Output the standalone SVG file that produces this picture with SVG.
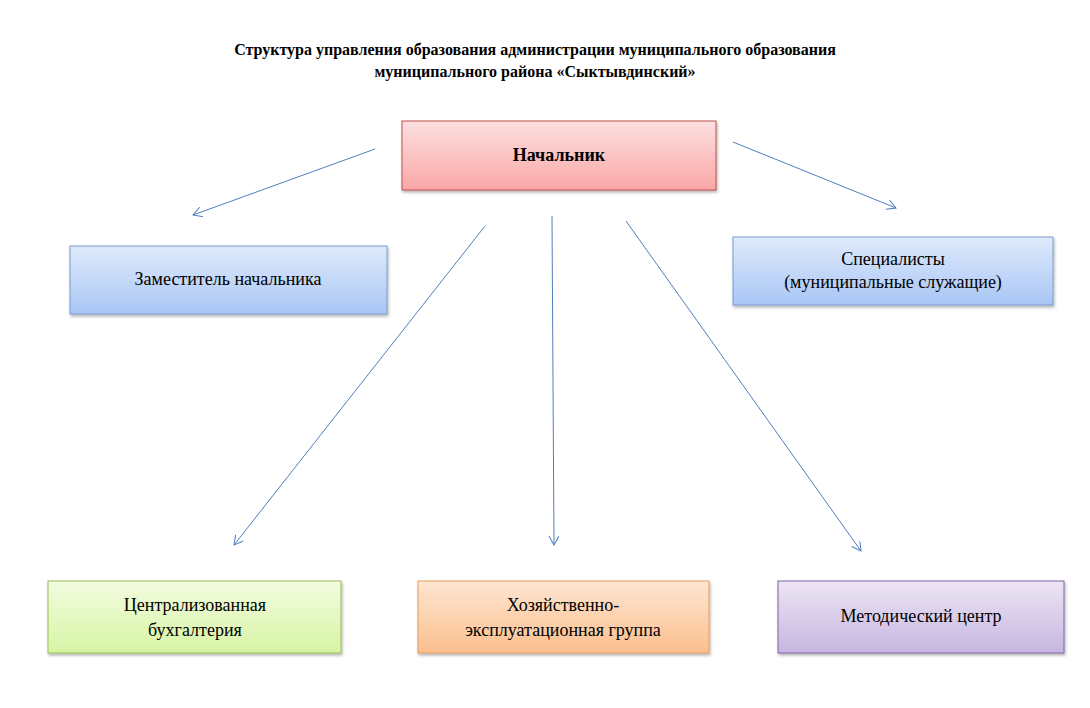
<svg xmlns="http://www.w3.org/2000/svg" width="1090" height="708" viewBox="0 0 1090 708">
<defs>
<linearGradient id="gr" x1="0" y1="0" x2="0" y2="1"><stop offset="0" stop-color="#fde0e0"/><stop offset="1" stop-color="#fba7a7"/></linearGradient>
<linearGradient id="gb" x1="0" y1="0" x2="0" y2="1"><stop offset="0" stop-color="#dfeafc"/><stop offset="1" stop-color="#a9c6f5"/></linearGradient>
<linearGradient id="gg" x1="0" y1="0" x2="0" y2="1"><stop offset="0" stop-color="#f3fce0"/><stop offset="1" stop-color="#d6f4a4"/></linearGradient>
<linearGradient id="go" x1="0" y1="0" x2="0" y2="1"><stop offset="0" stop-color="#fee6d2"/><stop offset="1" stop-color="#fbbf8e"/></linearGradient>
<linearGradient id="gp" x1="0" y1="0" x2="0" y2="1"><stop offset="0" stop-color="#ece5f4"/><stop offset="1" stop-color="#c6b6e0"/></linearGradient>
<filter id="sh" x="-5%" y="-10%" width="110%" height="130%"><feDropShadow dx="1" dy="2" stdDeviation="1.5" flood-color="#000" flood-opacity="0.3"/></filter>
<marker id="ar" markerWidth="12" markerHeight="12" refX="10" refY="5" orient="auto" markerUnits="userSpaceOnUse"><path d="M1,0 L10,5 L1,10" fill="none" stroke="#4f7fbf" stroke-width="1"/></marker>
</defs>
<style>
text{font-family:"Liberation Serif",serif;font-size:18px;fill:#000;text-anchor:middle}
.t{font-weight:bold;font-size:16px}
rect{filter:url(#sh)}
.c line{stroke:#4f7fbf;stroke-width:1;marker-end:url(#ar)}
</style>
<rect width="1090" height="708" fill="#fff" style="filter:none"/>
<g id="title"><text class="t" x="535" y="55">Структура управления образования администрации муниципального образования</text><text class="t" x="535" y="77">муниципального района «Сыктывдинский»</text></g>
<g class="c">
<line x1="375" y1="149" x2="193" y2="215"/>
<line x1="733" y1="142" x2="896" y2="208"/>
<line x1="485" y1="226" x2="234" y2="545"/>
<line x1="552" y1="216" x2="554" y2="545"/>
<line x1="626" y1="221" x2="861" y2="551"/>
</g>
<g id="n1"><rect x="402" y="121" width="314" height="69" fill="url(#gr)" stroke="#c0504d"/><text x="559" y="161" font-weight="bold" font-size="20">Начальник</text></g>
<g id="n2"><rect x="70" y="246" width="317" height="68" fill="url(#gb)" stroke="#7a9ccc"/><text x="228" y="285">Заместитель  начальника</text></g>
<g id="n3"><rect x="733" y="237" width="320" height="68" fill="url(#gb)" stroke="#7a9ccc"/><text x="893" y="265">Специалисты</text><text x="893" y="288">(муниципальные  служащие)</text></g>
<g id="n4"><rect x="48" y="581" width="293" height="72" fill="url(#gg)" stroke="#9bbb59"/><text x="195" y="611">Централизованная</text><text x="195" y="636">бухгалтерия</text></g>
<g id="n5"><rect x="418" y="581" width="291" height="72" fill="url(#go)" stroke="#e59b5f"/><text x="563" y="611">Хозяйственно-</text><text x="563" y="636">эксплуатационная  группа</text></g>
<g id="n6"><rect x="778" y="581" width="286" height="72" fill="url(#gp)" stroke="#8064a2"/><text x="921" y="622">Методический  центр</text></g>
</svg>
